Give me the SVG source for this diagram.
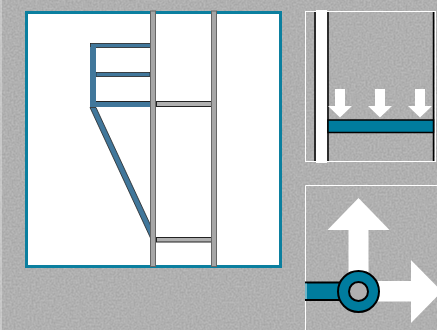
<svg xmlns="http://www.w3.org/2000/svg" width="437" height="330" viewBox="0 0 437 330">
<style>
.post{fill:#a6a6a6;stroke:#666;stroke-width:1}
.gray{fill:#b0b0b0;stroke:#222;stroke-width:1}
.blue{fill:#41779b;stroke:#222;stroke-width:0.800}
.arrow{fill:#fff}
.teal{fill:#007c9e;stroke:#000;stroke-width:2}
</style>
<defs>
<filter id="noise" x="0" y="0" width="100%" height="100%" color-interpolation-filters="sRGB">
<feTurbulence type="fractalNoise" baseFrequency="0.5" numOctaves="2" seed="4"/>
<feColorMatrix type="matrix" values="0.14 0 0 0 0.62  0.14 0 0 0 0.62  0.14 0 0 0 0.62  0 0 0 0 1"/>
</filter>
</defs>
<rect id="background" width="437" height="330" fill="#b0b0b0" filter="url(#noise)"/>
<rect x="0" y="0" width="2" height="330" fill="#fff" opacity="0.3"/>
<g id="main-panel">
<rect x="26.500" y="12.500" width="254" height="254" fill="#fff" stroke="#0b7f9f" stroke-width="3"/>
</g>
<g id="frame">
<rect class="blue" x="90.500" y="43.500" width="60" height="4" stroke="#000" stroke-width="1"/>
<rect class="blue" x="96" y="72.500" width="54" height="4" stroke="#000" stroke-width="1"/>
<path d="M90 47H96V102H90Z" fill="#41779b"/>
<path class="blue" d="M90 107.500L150.500 238V225L96 107.500Z"/>
<rect x="90" y="101.500" width="60.500" height="5.500" fill="#41779b"/>
<path d="M96 101.500H150" stroke="#222" stroke-width="1" fill="none"/>
<rect class="gray" x="156.500" y="101.500" width="55" height="5"/>
<rect class="gray" x="156.500" y="237.500" width="55" height="4.500"/>
<rect class="post" x="150.500" y="11" width="5" height="255.500"/>
<rect class="post" x="211.500" y="11" width="5" height="255.500"/>
</g>
<g id="load-panel">
<rect x="305.500" y="11.500" width="130" height="150" fill="none" stroke="#fff" stroke-width="1"/>
<rect x="316" y="10" width="11" height="153" fill="#fff"/>
<path d="M315 12V161M328 12V161M433.500 12V161" stroke="#000" stroke-width="1.500" fill="none"/>
<rect x="328" y="120" width="105.500" height="12.500" fill="#007c9e" stroke="#000" stroke-width="1.500"/>
<path class="arrow" d="M335 89H345V106H352L340 117.500L328 106H335Z"/>
<path class="arrow" d="M375 89H385V106H392L380 117.500L368 106H375Z"/>
<path class="arrow" d="M415 89H425V106H432L420 117.500L408 106H415Z"/>
</g>
<g id="joint-panel">
<path d="M305.500 330V185.500H437" fill="none" stroke="#fff" stroke-width="1"/>
<path class="arrow" d="M358.500 198L389.500 230H368.500V285H348.500V230H327.500Z"/>
<path class="arrow" d="M358 281H411V260L442 291.500L411 323V301.500H358Z"/>
<path d="M305 282.500H345V300H305" fill="#007c9e" stroke="#000" stroke-width="2"/>
<rect x="305" y="283.500" width="2" height="15.500" fill="#6fb6c9"/>
<circle class="teal" cx="358.500" cy="291.500" r="20.500"/>
<circle cx="358.500" cy="291.500" r="9.500" fill="#b0b0b0" stroke="#000" stroke-width="2"/>
</g>
</svg>
